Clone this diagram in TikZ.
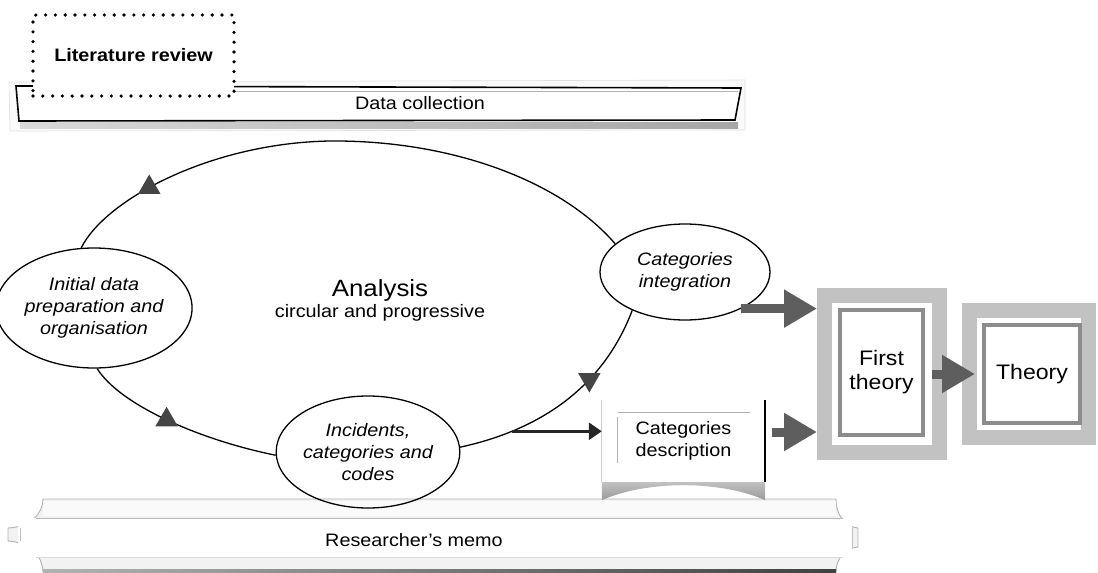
\documentclass[tikz,border=0pt]{standalone}
\usepackage{fontspec}
\setmainfont{Liberation Sans}[FakeStretch=1.1]
\usetikzlibrary{shapes.geometric,arrows.meta}
\definecolor{arrowgray}{HTML}{5E5E5E}
\definecolor{tridark}{HTML}{454545}
\definecolor{framegray}{HTML}{C2C2C2}
\definecolor{bevelgray}{HTML}{8C8C8C}
\begin{document}
\begin{tikzpicture}[x=1pt,y=-1pt,
  every node/.style={font=\fontsize{18}{22}\selectfont},
  stage/.style={ellipse, draw, line width=1.3pt, inner sep=0pt, align=center,
    font=\fontsize{18}{22}\selectfont\itshape},
  looparc/.style={line width=1.3pt},
  uptri/.style={regular polygon, regular polygon sides=3, fill=tridark,
    minimum size=26pt, inner sep=0pt},
  downtri/.style={uptri, shape border rotate=180},
  bigarrow/.style={draw=arrowgray, line width=9pt,
    -{Triangle[length=33pt,width=36pt]}},
  thinarrow/.style={draw=black!85, line width=3pt,
    -{Triangle[length=13pt,width=17pt]}},
  framebox/.style={draw=framegray, line width=15pt, fill=white},
  innerbox/.style={draw=bevelgray, line width=3.5pt, fill=white, align=center,
    font=\fontsize{21}{24}\selectfont},
  litbox/.style={draw, fill=white, line width=3.6pt, line cap=round,
    dash pattern=on 0pt off 9.8pt, font=\fontsize{18}{22}\selectfont\bfseries}
]
\path[use as bounding box] (0,0) rectangle (1098,573);

% ---------- data collection ribbon ----------
\fill[gray!4, draw=gray!25, line width=0.6pt] (9,82) -- (745,80) -- (745,130) -- (10,131) -- cycle;
\shade[left color=gray!30, right color=gray!70] (20,122) rectangle (738,128);
\draw[line width=1.6pt, fill=white] (16,86) -- (741,88) -- (735,120) -- (19,121) -- cycle;
\draw[gray!60, line width=0.8pt] (234,91) -- (738,91);
\node (datacol) at (420,103) {Data collection};

% ---------- literature review ----------
\node[litbox, minimum width=201pt, minimum height=81pt] (lit) at (133.5,55.5) {Literature review};

% ---------- researcher's memo ribbon ----------
\fill[gray!10, draw=gray!60, line width=0.9pt]
  (43,499) -- (836,499) .. controls (836,516) and (846,527) .. (858,528)
  -- (858,547) .. controls (846,548) and (836,558) .. (836,572)
  -- (43,572) .. controls (43,557) and (30,542) .. (8,541)
  -- (8,528) .. controls (30,527) and (43,514) .. (43,499) -- cycle;
\fill[white] (18,518) rectangle (852,557);
\fill[gray!4] (43,501) rectangle (836,516);
\draw[gray!55, line width=0.9pt] (36,518) -- (843,518);
\draw[gray!30, line width=0.6pt] (36,557) -- (843,557);
\draw[gray!50, line width=0.8pt] (20,528) -- (20,541);
\draw[gray!50, line width=0.8pt] (852,528) -- (852,547);
\shade[left color=gray!60, right color=black!75] (43,569.5) rectangle (836,572.5);
\node (memo) at (414,540) {Researcher’s memo};

% ---------- analysis cycle ----------
\node[stage, minimum width=168pt, minimum height=120pt] (init) at (94,308)
  {Initial data\\preparation and\\organisation};
\node[stage, minimum width=170pt, minimum height=112pt] (incid) at (368,452)
  {Incidents,\\categories and\\codes};
\node[stage, minimum width=170pt, minimum height=96pt] (catint) at (685,272)
  {Categories\\integration};

\node[font=\fontsize{23.5}{26}\selectfont] (analysis) at (380,290) {Analysis};
\node (circ) at (380,313) {circular and progressive};

\draw[looparc] (init.102) .. controls (105,200) and (210,143) .. (330,141)
  node[uptri, pos=0.42] (tri1) {}
  .. controls (450,140) and (560,180) .. (catint.158);
\draw[looparc] (init.-87) .. controls (120,405) and (200,440) .. (incid.182)
  node[uptri, pos=0.5] (tri2) {};
\draw[looparc] (incid.3) .. controls (530,432) and (600,395) .. (catint.216)
  coordinate[pos=0.25] (tap)
  node[downtri, pos=0.67] (tri3) {};

% ---------- categories description ----------
\node[fill=white, minimum width=163pt, minimum height=82pt, align=center,
      inner sep=0pt] (catdesc) at (683.5,441) {Categories\\description};
\shade[top color=gray!45, bottom color=gray!80]
  (catdesc.south west) -- (catdesc.south east) -- ([yshift=-18pt]catdesc.south east)
  .. controls ([xshift=-45pt,yshift=2pt]catdesc.south east)
  and ([xshift=45pt,yshift=2pt]catdesc.south west) .. ([yshift=-18pt]catdesc.south west) -- cycle;
\draw[gray!40, line width=1.2pt] (catdesc.north west) -- (catdesc.south west);
\draw[line width=1.5pt] (catdesc.north east) -- (catdesc.south east);
\draw[gray!60, line width=1pt] ([xshift=16pt,yshift=-13pt]catdesc.north west)
  -- ([xshift=-15pt,yshift=-13pt]catdesc.north east);
\draw[gray!60, line width=1.2pt] ([xshift=16pt,yshift=-17pt]catdesc.north west)
  -- ([xshift=16pt,yshift=19pt]catdesc.south west);

\draw[thinarrow] (tap) -- (tap -| catdesc.west);

% ---------- theory boxes ----------
\node[framebox, minimum width=115pt, minimum height=157pt] (first) at (882,374) {};
\node[innerbox, minimum width=83pt, minimum height=125pt] (firstin) at (881.5,372.5) {First\\theory};
\node[framebox, minimum width=119pt, minimum height=127pt] (theory) at (1029,374) {};
\node[innerbox, minimum width=96pt, minimum height=98pt] (theoryin) at (1032,374) {Theory};

% ---------- arrows into the theory boxes ----------
\coordinate (ciout) at (catint.-33);
\draw[bigarrow] (ciout) -- (ciout -| first.west);
\coordinate (cdout) at ([xshift=7pt,yshift=9pt]catdesc.east);
\draw[bigarrow] (cdout) -- (cdout -| first.west);
\draw[bigarrow] ([xshift=-15pt]first.east) -- ([xshift=13pt]theory.west);
\end{tikzpicture}
\end{document}
